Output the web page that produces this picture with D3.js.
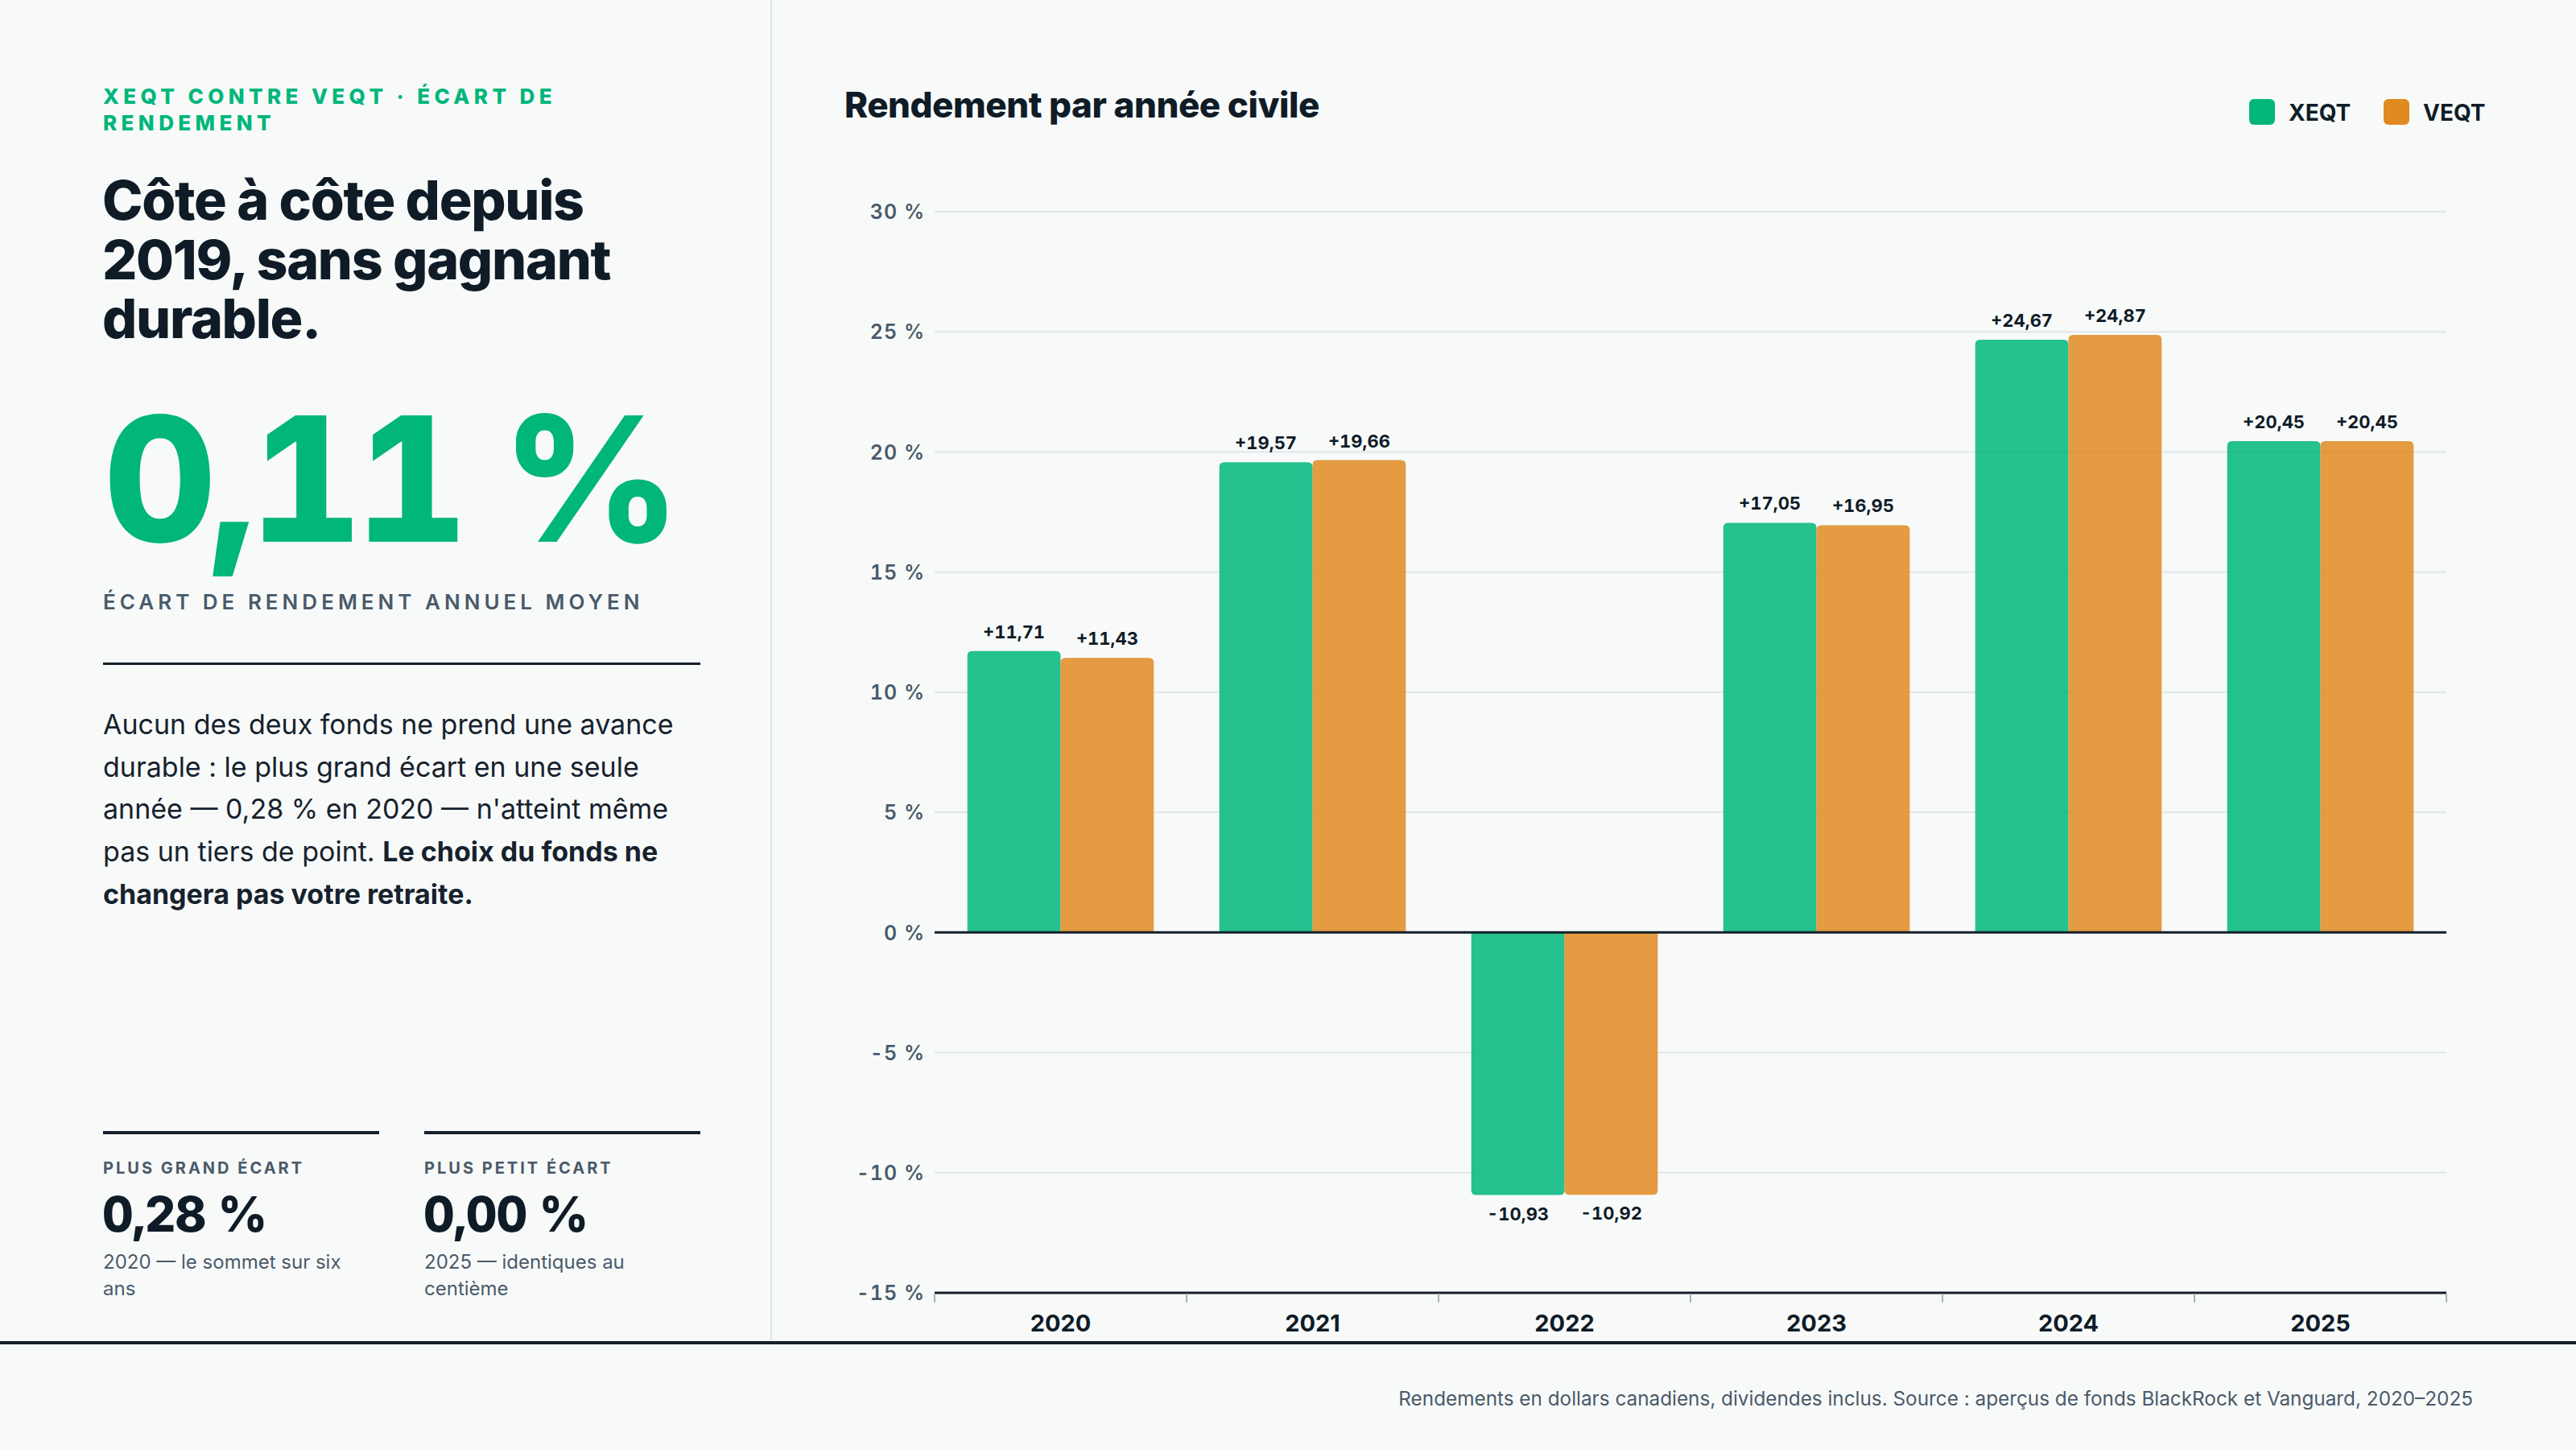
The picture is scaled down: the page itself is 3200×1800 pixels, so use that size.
<!DOCTYPE html>
<html><head><meta charset="utf-8">
<script src="https://cdn.jsdelivr.net/npm/d3@7"></script>
<style>
html,body{margin:0;padding:0;background:#f8fafa;}
svg{display:block;font-family:Inter,"Noto Sans",sans-serif;}
.tn{font-variant-numeric:tabular-nums;}
</style></head><body>
<svg id="c" width="3200" height="1800"></svg>
<script>
const years = ["2020","2021","2022","2023","2024","2025"];
const xeqtReturns = [11.71, 19.57, -10.93, 17.05, 24.67, 20.45];
const veqtReturns = [11.43, 19.66, -10.92, 16.95, 24.87, 20.45];
const seriesNames = ["XEQT","VEQT"];
const yTicks = [30,25,20,15,10,5,0,-5,-10,-15];
const seriesColors = ["#00b67a","#e08a20"];

const svg = d3.select("#c");
const ink = "#0f1c27", slate = "#4a5a69";

svg.append("rect").attr("width",3200).attr("height",1800).attr("fill","#f8fafa");
// panel divider
svg.append("line").attr("x1",958).attr("x2",958).attr("y1",0).attr("y2",1668).attr("stroke","#dde4e9").attr("stroke-width",2);
// bottom rule
svg.append("rect").attr("x",0).attr("y",1666).attr("width",3200).attr("height",4).attr("fill","#14202b");

// ---------- left panel ----------
const L = svg.append("g");
["XEQT CONTRE VEQT · ÉCART DE","RENDEMENT"].forEach((t,i)=>
  L.append("text").attr("x",128).attr("y",129+i*33).attr("fill","#00b67a").attr("font-size",26)
   .attr("font-weight",800).attr("letter-spacing","5.4px").text(t));

["Côte à côte depuis","2019, sans gagnant","durable."].forEach((t,i)=>
  L.append("text").attr("x",127).attr("y",273+i*73.5).attr("fill",ink).attr("font-size",68)
   .attr("font-weight",800).attr("letter-spacing","-1.3px").text(t));

L.append("text").attr("class","tn").attr("x",129).attr("y",673).attr("fill","#00b67a").attr("font-size",216).attr("font-weight",800).attr("letter-spacing","-8px").text("0,11 %");
L.append("text").attr("x",128).attr("y",757).attr("fill",slate).attr("font-size",26).attr("font-weight",600).attr("letter-spacing","5px").text("ÉCART DE RENDEMENT ANNUEL MOYEN");
L.append("rect").attr("x",128).attr("y",823).attr("width",742).attr("height",3).attr("fill","#14202b");

const plines = [
  [["Aucun des deux fonds ne prend une avance",400]],
  [["durable : le plus grand écart en une seule",400]],
  [["année — 0,28 % en 2020 — n'atteint même",400]],
  [["pas un tiers de point. ",400],["Le choix du fonds ne",700]],
  [["changera pas votre retraite.",700]]
];
plines.forEach((ln,i)=>{
  const t = L.append("text").attr("x",128).attr("y",912+i*52.7).attr("fill","#16222d").attr("font-size",34);
  ln.forEach(seg=>t.append("tspan").attr("font-weight",seg[1]).text(seg[0]));
});

const stats = [
  {x:128, label:"PLUS GRAND ÉCART", value:"0,28 %", sub:["2020 — le sommet sur six","ans"]},
  {x:527, label:"PLUS PETIT ÉCART", value:"0,00 %", sub:["2025 — identiques au","centième"]}
];
stats.forEach(s=>{
  L.append("rect").attr("x",s.x).attr("y",1405).attr("width",343).attr("height",4).attr("fill","#14202b");
  L.append("text").attr("x",s.x).attr("y",1458).attr("fill",slate).attr("font-size",20).attr("font-weight",700).attr("letter-spacing","3px").text(s.label);
  L.append("text").attr("class","tn").attr("x",s.x-1).attr("y",1530).attr("fill",ink).attr("font-size",60).attr("font-weight",800).attr("letter-spacing","-1px").text(s.value);
  s.sub.forEach((t,i)=>L.append("text").attr("x",s.x).attr("y",1576+i*33).attr("fill",slate).attr("font-size",24).text(t));
});

// ---------- chart ----------
svg.append("text").attr("x",1049).attr("y",146).attr("fill",ink).attr("font-size",44).attr("font-weight",800).attr("letter-spacing","-0.5px").text("Rendement par année civile");

const legendX = [2794, 2961];
seriesNames.forEach((n,i)=>{
  svg.append("rect").attr("x",legendX[i]).attr("y",123).attr("width",32).attr("height",32).attr("rx",6).attr("fill",seriesColors[i]);
  svg.append("text").attr("x",legendX[i]+49).attr("y",150).attr("fill",ink).attr("font-size",28).attr("font-weight",700).text(n);
});

const plotL = 1161, plotR = 3039, plotT = 263, plotB = 1606;
const y = d3.scaleLinear().domain([-15,30]).range([plotB,plotT]);
const x0 = d3.scaleBand().domain(years).range([plotL,plotR]).paddingInner(0.26).paddingOuter(0.13);
const x1 = d3.scaleBand().domain(seriesNames).range([0,x0.bandwidth()]).padding(0);
const color = d3.scaleOrdinal().domain(seriesNames).range(seriesColors);

// gridlines
svg.append("g").selectAll("line").data(yTicks.filter(t=>t!==0 && t!==-15)).join("line")
  .attr("x1",plotL).attr("x2",plotR).attr("y1",d=>y(d)).attr("y2",d=>y(d))
  .attr("stroke","#e2e6e9").attr("stroke-width",2);

// y axis labels
const fmtTick = d => (d<0?"-":"") + Math.abs(d) + " %";
const yAxis = svg.append("g").attr("transform",`translate(${plotL-12},0)`)
  .call(d3.axisLeft(y).tickValues(yTicks).tickSize(0).tickPadding(0).tickFormat(fmtTick));
yAxis.select(".domain").remove();
yAxis.selectAll("text").attr("class","tn").attr("fill",slate).attr("font-size",25).attr("font-weight",600)
  .attr("letter-spacing","1px").attr("font-family","Inter").attr("dy","0.35em");

// bars
const rows = years.map((yr,i)=>({year:yr, vals:[{k:"XEQT",v:xeqtReturns[i]},{k:"VEQT",v:veqtReturns[i]}]}));
function barPath(x,w,v){
  const y0 = y(0), y1 = y(v), r = 6;
  if(v>=0){
    return `M${x},${y0}V${y1+r}Q${x},${y1} ${x+r},${y1}H${x+w-r}Q${x+w},${y1} ${x+w},${y1+r}V${y0}Z`;
  } else {
    return `M${x},${y0}V${y1-r}Q${x},${y1} ${x+r},${y1}H${x+w-r}Q${x+w},${y1} ${x+w},${y1-r}V${y0}Z`;
  }
}
const fmtVal = v => (v>=0?"+":"-") + d3.format(".2f")(Math.abs(v)).replace(".",",");
const g = svg.append("g").selectAll("g").data(rows).join("g").attr("transform",d=>`translate(${x0(d.year)},0)`);
g.selectAll("path").data(d=>d.vals).join("path")
  .attr("d",d=>barPath(x1(d.k),x1.bandwidth(),d.v))
  .attr("fill",d=>color(d.k)).attr("fill-opacity",0.85);
g.selectAll("text").data(d=>d.vals).join("text").attr("class","tn")
  .attr("x",d=>x1(d.k)+x1.bandwidth()/2)
  .attr("y",d=>d.v>=0 ? y(d.v)-16 : y(d.v)+31)
  .attr("text-anchor","middle").attr("fill",ink).attr("font-size",22).attr("font-weight",700)
  .text(d=>fmtVal(d.v));

// zero line and bottom axis
svg.append("line").attr("x1",plotL).attr("x2",plotR).attr("y1",y(0)).attr("y2",y(0)).attr("stroke","#14202b").attr("stroke-width",3);
svg.append("line").attr("x1",plotL).attr("x2",plotR).attr("y1",y(-15)).attr("y2",y(-15)).attr("stroke","#14202b").attr("stroke-width",3);
const step = x0.step();
const bounds = d3.range(years.length+1).map(i=>x0(years[0]) - step*x0.paddingInner()/2 + i*step);
svg.append("g").selectAll("line").data(bounds).join("line")
  .attr("x1",d=>d).attr("x2",d=>d).attr("y1",plotB+1).attr("y2",plotB+12)
  .attr("stroke","#aab2b8").attr("stroke-width",2);
const xAxis = svg.append("g").attr("transform",`translate(0,${plotB})`)
  .call(d3.axisBottom(x0).tickSize(0).tickPadding(0));
xAxis.select(".domain").remove();
xAxis.selectAll("text").attr("fill",ink).attr("font-size",29).attr("font-weight",700).attr("font-family","Inter").attr("dy","48px");

// footer
svg.append("text").attr("x",3072).attr("y",1746).attr("text-anchor","end").attr("fill",slate).attr("font-size",24.3)
  .text("Rendements en dollars canadiens, dividendes inclus. Source : aperçus de fonds BlackRock et Vanguard, 2020–2025");
</script></body></html>
